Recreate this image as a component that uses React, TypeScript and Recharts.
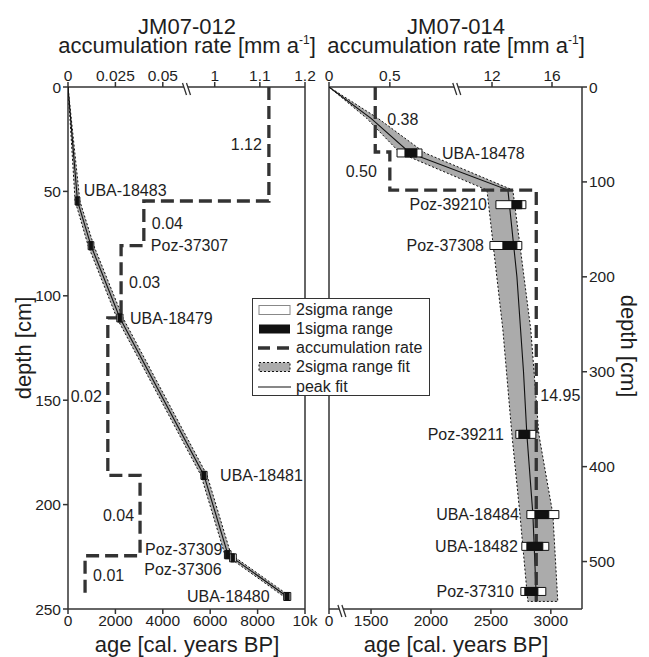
import React from "react";
import {
  ScatterChart,
  Scatter,
  XAxis,
  YAxis,
  ReferenceArea,
  ReferenceLine,
  ReferenceDot,
} from "recharts";

const FONT = "'Liberation Sans', Arial, Helvetica, sans-serif";
const INK = "#1e1e1e";
const AXIS = "#333";
const DASH = "#333";
const BAND = "#ababab";
const BOX = "#111";
const PLOT_H = 522;
const BOX_HALF = 4;

// ---------- JM07-012 ----------
const jm012Samples = ["UBA-18483", "Poz-37307", "UBA-18479", "UBA-18481", "Poz-37309", "Poz-37306", "UBA-18480"];
const jm012SampleDepth = [54.6, 76, 110.6, 186, 224, 225.5, 244];
const jm012Sigma2Min = [300, 850, 2060, 5610, 6600, 6820, 9100];
const jm012Sigma2Max = [500, 1090, 2320, 5870, 6880, 7100, 9400];
const jm012Sigma1Min = [330, 890, 2110, 5650, 6640, 6880, 9150];
const jm012Sigma1Max = [460, 1040, 2270, 5820, 6820, 7020, 9330];

const jm012FitDepth = [0, 54.6, 76, 110.6, 186, 224, 225.5, 244];
const jm012PeakAge = [0, 400, 970, 2190, 5740, 6750, 6950, 9240];
const jm012FitLow = [0, 300, 850, 2060, 5610, 6620, 6820, 9100];
const jm012FitHigh = [0, 500, 1090, 2320, 5870, 6880, 7080, 9380];

const jm012AccTop = [0, 54.6, 76, 110.6, 186, 224.5];
const jm012AccBottom = [54.6, 76, 110.6, 186, 224.5, 243];
const jm012AccRate = [1.12, 0.04, 0.028, 0.021, 0.038, 0.009];
const jm012AccText = ["1.12", "0.04", "0.03", "0.02", "0.04", "0.01"];

const jm012AgeTicks = [0, 2000, 4000, 6000, 8000, 10000];
const jm012AgeTickText = ["0", "2000", "4000", "6000", "8000", "10k"];
const jm012AccTicks = [0, 0.025, 0.05, 1, 1.1, 1.2];
const jm012AccTickText = ["0", "0.025", "0.05", "1", "1.1", "1.2"];
const jm012DepthTicks = [0, 50, 100, 150, 200, 250];

// label placement (px): + right of the box, - left of it
const jm012LabelDx = [4, 57, 7, 13, -2, -8, -14];
const jm012LabelDy = [-11, 0, 0, 0, -5, 11, 0];
const jm012AccLabelDx = [-7, 8, 8, -6, -6, 8];

// ---------- JM07-014 ----------
const jm014Samples = ["UBA-18478", "Poz-39210", "Poz-37308", "Poz-39211", "UBA-18484", "UBA-18482", "Poz-37310"];
const jm014SampleDepth = [69.5, 124, 167, 366, 450.5, 484, 531.5];
const jm014Sigma2Min = [1717, 2542, 2492, 2708, 2800, 2758, 2750];
const jm014Sigma2Max = [1925, 2792, 2758, 2875, 3067, 2983, 2958];
const jm014Sigma1Min = [1783, 2675, 2600, 2733, 2867, 2800, 2783];
const jm014Sigma1Max = [1883, 2758, 2717, 2825, 2983, 2933, 2892];

const jm014PeakDepth = [0, 33, 69.5, 108.6, 200, 300, 366, 450, 542];
const jm014PeakAge = [0, 1500, 1825, 2642, 2717, 2772, 2800, 2850, 2880];
const jm014BandDepth = [0, 33, 69.5, 108.6, 182, 256, 366, 450, 542];
const jm014FitLow = [0, 1464, 1742, 2467, 2533, 2600, 2675, 2742, 2808];
const jm014FitHigh = [0, 1558, 1950, 2683, 2758, 2833, 2900, 3017, 3058];

const jm014AccTop = [0, 68.5, 108.6];
const jm014AccBottom = [68.5, 108.6, 542];
const jm014AccRate = [0.38, 0.5, 14.95];
const jm014AccText = ["0.38", "0.50", "14.95"];

const jm014AgeTicks = [0, 1500, 2000, 2500, 3000];
const jm014AgeTickText = ["0", "1500", "2000", "2500", "3000"];
const jm014AccTicks = [0, 0.5, 12, 16];
const jm014AccTickText = ["0", "0.5", "12", "16"];
const jm014DepthTicks = [0, 100, 200, 300, 400, 500];

const jm014LabelDx = [20, -9, -6, -12, -8, -4, -7];
const jm014LabelDy = [0, 0, 0, 0, 0, 0, 0];
const jm014AccLabelDx = [12, -13, 4];

// broken axes: [valueFrom, valueTo, fracFrom, fracTo]
const jm012AccSegs = [[0, 0.0625, 0, 0.5], [0.9375, 1.2, 0.5, 1]];
const jm014AccSegs = [[0, 1.05, 0, 0.505], [9.65, 18, 0.505, 1]];
const jm014AgeSegs = [[0, 100, 0, 0.051], [1257, 3260, 0.051, 1]];

type Fx = (v: number) => number;

function broken(segs: number[][]): Fx {
  return (v) => {
    for (let i = 0; i < segs.length; i++) {
      const [d0, d1, f0, f1] = segs[i];
      if (v <= d1 || i === segs.length - 1) {
        const t = (Math.max(v, d0) - d0) / (d1 - d0);
        return f0 + t * (f1 - f0);
      }
    }
    return 0;
  };
}

const linePts = (depths: number[], vals: number[], fx: Fx) =>
  depths.map((d, i) => ({ x: fx(vals[i]), depth: d }));

const bandPts = (depths: number[], low: number[], high: number[], fx: Fx) => {
  const a = linePts(depths, low, fx);
  const b = linePts(depths, high, fx).reverse();
  return [...a, ...b, a[0]];
};

const stepPts = (tops: number[], bottoms: number[], rates: number[], fx: Fx) =>
  rates.flatMap((r, i) => [
    { x: fx(r), depth: tops[i] },
    { x: fx(r), depth: bottoms[i] },
  ]);

interface PanelCfg {
  left: number;
  width: number;
  margin: { top: number; right: number; bottom: number; left: number };
  depthMax: number;
  depthTicks: number[];
  yOrientation: "left" | "right";
  frameX: number;
  ageFx: Fx;
  ageTicks: number[];
  ageTickText: string[];
  accFx: Fx;
  accTicks: number[];
  accTickText: string[];
  samples: string[];
  sampleDepth: number[];
  s2min: number[];
  s2max: number[];
  s1min: number[];
  s1max: number[];
  labelDx: number[];
  labelDy: number[];
  peakDepth: number[];
  peakAge: number[];
  bandDepth: number[];
  bandLow: number[];
  bandHigh: number[];
  accTop: number[];
  accBottom: number[];
  accRate: number[];
  accText: string[];
  accLabelDx: number[];
  accBreak?: number;
  ageBreak?: number;
}

const TextMark = (p: any) => {
  const d = p.payload ?? p;
  return (
    <text
      x={p.cx + d.dx}
      y={p.cy + d.dy}
      dy="0.36em"
      textAnchor={d.dx < 0 ? "end" : "start"}
      fontSize={16}
      fontFamily={FONT}
      fill={INK}
    >
      {d.text}
    </text>
  );
};

const BreakMark = (p: any) => {
  const cx = p.cx;
  const cy = p.cy + 2;
  return (
    <g>
      <polygon points={`${cx - 4},${cy - 6} ${cx},${cy - 6} ${cx + 4},${cy + 6} ${cx},${cy + 6}`} fill="#fff" />
      <line x1={cx - 4} y1={cy - 6} x2={cx} y2={cy + 6} stroke={AXIS} strokeWidth={1.3} />
      <line x1={cx} y1={cy - 6} x2={cx + 4} y2={cy + 6} stroke={AXIS} strokeWidth={1.3} />
    </g>
  );
};

const tickText = (ticks: number[], texts: string[], fx: Fx) => (v: number) => {
  const i = ticks.findIndex((t) => Math.abs(fx(t) - v) < 1e-6);
  return i >= 0 ? texts[i] : "";
};

const tickStyle = { fontSize: 15.5, fill: INK, fontFamily: FONT };
const axisLine = { stroke: AXIS, strokeWidth: 1.5 };

function Panel({ cfg }: { cfg: PanelCfg }) {
  const halfCm = (BOX_HALF * cfg.depthMax) / PLOT_H;
  const sampleLabels = cfg.samples.map((s, i) => ({
    x: cfg.ageFx(cfg.labelDx[i] < 0 ? cfg.s2min[i] : cfg.s2max[i]),
    depth: cfg.sampleDepth[i],
    text: s,
    dx: cfg.labelDx[i],
    dy: cfg.labelDy[i],
  }));
  const accLabels = cfg.accRate.map((r, i) => ({
    x: cfg.accFx(r),
    depth: (cfg.accTop[i] + cfg.accBottom[i]) / 2,
    text: cfg.accText[i],
    dx: cfg.accLabelDx[i],
    dy: 0,
  }));

  return (
    <div style={{ position: "absolute", left: cfg.left, top: 0 }}>
      <ScatterChart width={cfg.width} height={657} margin={cfg.margin}>
        <XAxis
          xAxisId="age"
          dataKey="x"
          type="number"
          orientation="bottom"
          domain={[0, 1]}
          allowDataOverflow
          ticks={cfg.ageTicks.map(cfg.ageFx)}
          tickFormatter={tickText(cfg.ageTicks, cfg.ageTickText, cfg.ageFx)}
          interval={0}
          height={30}
          tickSize={5}
          tickMargin={1}
          axisLine={axisLine}
          tickLine={axisLine}
          tick={tickStyle}
        />
        <XAxis
          xAxisId="acc"
          dataKey="x"
          type="number"
          orientation="top"
          domain={[0, 1]}
          allowDataOverflow
          ticks={cfg.accTicks.map(cfg.accFx)}
          tickFormatter={tickText(cfg.accTicks, cfg.accTickText, cfg.accFx)}
          interval={0}
          height={30}
          tickSize={5}
          tickMargin={1}
          axisLine={axisLine}
          tickLine={axisLine}
          tick={tickStyle}
        />
        <YAxis
          yAxisId="depth"
          dataKey="depth"
          type="number"
          orientation={cfg.yOrientation}
          domain={[0, cfg.depthMax]}
          allowDataOverflow
          reversed
          ticks={cfg.depthTicks}
          interval={0}
          width={60}
          tickSize={5}
          tickMargin={2}
          axisLine={axisLine}
          tickLine={axisLine}
          tick={tickStyle}
        />
        <ReferenceLine xAxisId="age" yAxisId="depth" x={cfg.frameX} stroke={AXIS} strokeWidth={1.5} />

        <Scatter
          data={bandPts(cfg.bandDepth, cfg.bandLow, cfg.bandHigh, cfg.ageFx)}
          xAxisId="age"
          yAxisId="depth"
          line={{ stroke: "#111", strokeWidth: 1, strokeDasharray: "2 2", fill: BAND }}
          shape={() => <g />}
          isAnimationActive={false}
        />
        <Scatter
          data={linePts(cfg.peakDepth, cfg.peakAge, cfg.ageFx)}
          xAxisId="age"
          yAxisId="depth"
          line={{ stroke: "#111", strokeWidth: 1.1 }}
          shape={() => <g />}
          isAnimationActive={false}
        />
        <Scatter
          data={stepPts(cfg.accTop, cfg.accBottom, cfg.accRate, cfg.accFx)}
          xAxisId="acc"
          yAxisId="depth"
          line={{ stroke: DASH, strokeWidth: 3.3, strokeDasharray: "13 6" }}
          shape={() => <g />}
          isAnimationActive={false}
        />

        {cfg.samples.map((s, i) => (
          <ReferenceArea
            key={s + "2"}
            xAxisId="age"
            yAxisId="depth"
            x1={cfg.ageFx(cfg.s2min[i])}
            x2={cfg.ageFx(cfg.s2max[i])}
            y1={cfg.sampleDepth[i] - halfCm}
            y2={cfg.sampleDepth[i] + halfCm}
            fill="#fff"
            fillOpacity={1}
            stroke={BOX}
            strokeWidth={1}
            ifOverflow="visible"
            zIndex={700}
          />
        ))}
        {cfg.samples.map((s, i) => (
          <ReferenceArea
            key={s + "1"}
            xAxisId="age"
            yAxisId="depth"
            x1={cfg.ageFx(cfg.s1min[i])}
            x2={cfg.ageFx(cfg.s1max[i])}
            y1={cfg.sampleDepth[i] - halfCm}
            y2={cfg.sampleDepth[i] + halfCm}
            fill={BOX}
            fillOpacity={1}
            stroke={BOX}
            strokeWidth={1}
            ifOverflow="visible"
            zIndex={710}
          />
        ))}

        <Scatter data={sampleLabels} xAxisId="age" yAxisId="depth" shape={TextMark} isAnimationActive={false} />
        <Scatter data={accLabels} xAxisId="acc" yAxisId="depth" shape={TextMark} isAnimationActive={false} />

        {cfg.accBreak !== undefined && (
          <ReferenceDot xAxisId="acc" yAxisId="depth" x={cfg.accBreak} y={0} r={0} shape={BreakMark} ifOverflow="visible" zIndex={800} />
        )}
        {cfg.ageBreak !== undefined && (
          <ReferenceDot xAxisId="age" yAxisId="depth" x={cfg.ageBreak} y={cfg.depthMax} r={0} shape={BreakMark} ifOverflow="visible" zIndex={800} />
        )}
      </ScatterChart>
    </div>
  );
}

const jm012: PanelCfg = {
  left: 0,
  width: 320,
  margin: { top: 57, right: 15, bottom: 18, left: 8 },
  depthMax: 250,
  depthTicks: jm012DepthTicks,
  yOrientation: "left",
  frameX: 1,
  ageFx: (v) => v / 10000,
  ageTicks: jm012AgeTicks,
  ageTickText: jm012AgeTickText,
  accFx: broken(jm012AccSegs),
  accTicks: jm012AccTicks,
  accTickText: jm012AccTickText,
  samples: jm012Samples,
  sampleDepth: jm012SampleDepth,
  s2min: jm012Sigma2Min,
  s2max: jm012Sigma2Max,
  s1min: jm012Sigma1Min,
  s1max: jm012Sigma1Max,
  labelDx: jm012LabelDx,
  labelDy: jm012LabelDy,
  peakDepth: jm012FitDepth,
  peakAge: jm012PeakAge,
  bandDepth: jm012FitDepth,
  bandLow: jm012FitLow,
  bandHigh: jm012FitHigh,
  accTop: jm012AccTop,
  accBottom: jm012AccBottom,
  accRate: jm012AccRate,
  accText: jm012AccText,
  accLabelDx: jm012AccLabelDx,
  accBreak: jm012AccSegs[0][3],
};

const jm014: PanelCfg = {
  left: 320,
  width: 329,
  margin: { top: 57, right: 7, bottom: 18, left: 9 },
  depthMax: 550,
  depthTicks: jm014DepthTicks,
  yOrientation: "right",
  frameX: 0,
  ageFx: broken(jm014AgeSegs),
  ageTicks: jm014AgeTicks,
  ageTickText: jm014AgeTickText,
  accFx: broken(jm014AccSegs),
  accTicks: jm014AccTicks,
  accTickText: jm014AccTickText,
  samples: jm014Samples,
  sampleDepth: jm014SampleDepth,
  s2min: jm014Sigma2Min,
  s2max: jm014Sigma2Max,
  s1min: jm014Sigma1Min,
  s1max: jm014Sigma1Max,
  labelDx: jm014LabelDx,
  labelDy: jm014LabelDy,
  peakDepth: jm014PeakDepth,
  peakAge: jm014PeakAge,
  bandDepth: jm014BandDepth,
  bandLow: jm014FitLow,
  bandHigh: jm014FitHigh,
  accTop: jm014AccTop,
  accBottom: jm014AccBottom,
  accRate: jm014AccRate,
  accText: jm014AccText,
  accLabelDx: jm014AccLabelDx,
  accBreak: jm014AccSegs[0][3],
  ageBreak: jm014AgeSegs[0][3],
};

const legendRows = ["2sigma range", "1sigma range", "accumulation rate", "2sigma range fit", "peak fit"];

function LegendSymbol({ i }: { i: number }) {
  return (
    <svg width={34} height={12} style={{ position: "absolute", left: 5, top: 4 }}>
      {i === 0 && <rect x={1} y={1.5} width={31} height={9} fill="#fff" stroke="#888" strokeWidth={1} />}
      {i === 1 && <rect x={1} y={1.5} width={31} height={9} fill={BOX} />}
      {i === 2 && <line x1={0} y1={6} x2={33} y2={6} stroke={DASH} strokeWidth={3.3} strokeDasharray="12 7" />}
      {i === 3 && <rect x={1} y={1.5} width={31} height={9} fill={BAND} stroke="#111" strokeWidth={1} strokeDasharray="2 2" />}
      {i === 4 && <line x1={0} y1={6} x2={33} y2={6} stroke="#111" strokeWidth={1.2} />}
    </svg>
  );
}

const textBase: React.CSSProperties = {
  position: "absolute",
  fontFamily: FONT,
  color: INK,
  whiteSpace: "nowrap",
  fontSize: 22,
  lineHeight: "19.5px",
};

function Title({ cx, top, children }: { cx: number; top: number; children: React.ReactNode }) {
  return <div style={{ ...textBase, left: cx - 160, width: 320, top, textAlign: "center" }}>{children}</div>;
}

function PanelTitle({ cx, core }: { cx: number; core: string }) {
  return (
    <Title cx={cx} top={16.6}>
      {core}
      <br />
      accumulation rate [mm a<span style={{ fontSize: 12, position: "relative", top: -9 }}>-1</span>]
    </Title>
  );
}

function VLabel({ cx, cy, angle, text }: { cx: number; cy: number; angle: number; text: string }) {
  return (
    <div style={{ ...textBase, left: cx, top: cy, transform: `translate(-50%, -50%) rotate(${angle}deg)` }}>
      {text}
    </div>
  );
}

export default function App() {
  return (
    <div style={{ position: "absolute", left: 0, top: 0, width: 649, height: 657, background: "#fff", overflow: "hidden" }}>
      <Panel cfg={jm012} />
      <Panel cfg={jm014} />

      <PanelTitle cx={187} core="JM07-012" />
      <PanelTitle cx={456} core="JM07-014" />
      <Title cx={187} top={635}>age [cal. years BP]</Title>
      <Title cx={456} top={635}>age [cal. years BP]</Title>
      <VLabel cx={24} cy={348} angle={-90} text="depth [cm]" />
      <VLabel cx={628} cy={346} angle={90} text="depth [cm]" />

      <div
        style={{
          position: "absolute",
          left: 252,
          top: 298,
          width: 178,
          height: 98,
          boxSizing: "border-box",
          border: `1.5px solid ${AXIS}`,
          background: "#fff",
          paddingTop: 0.5,
        }}
      >
        {legendRows.map((r, i) => (
          <div key={r} style={{ position: "relative", height: 19.3 }}>
            <LegendSymbol i={i} />
            <span style={{ ...textBase, fontSize: 16, lineHeight: "19px", left: 43, top: 0 }}>{r}</span>
          </div>
        ))}
      </div>
    </div>
  );
}
